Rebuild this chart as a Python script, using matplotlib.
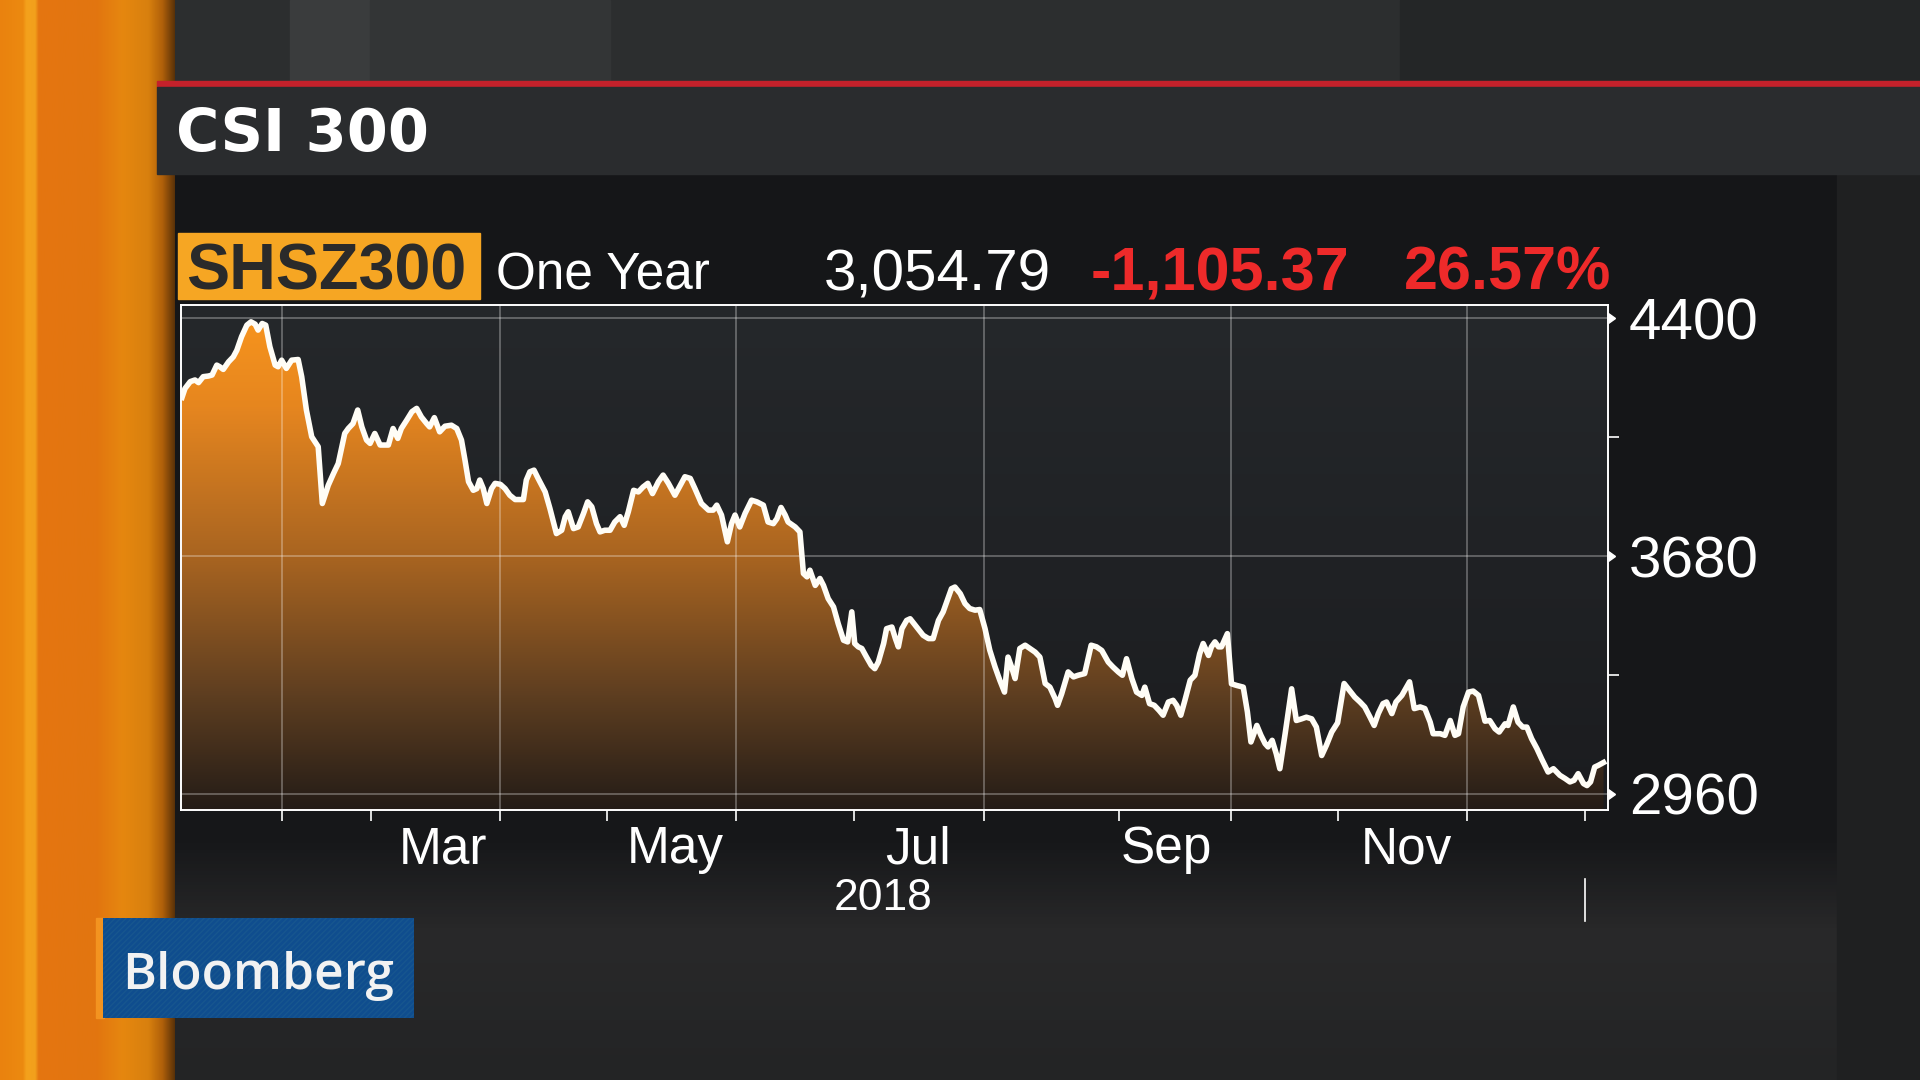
import numpy as np
import matplotlib
matplotlib.use("Agg")
import matplotlib.pyplot as plt
import matplotlib.transforms as mtransforms
from matplotlib.colors import LinearSegmentedColormap
from matplotlib.patches import Rectangle

plt.rcParams['font.family'] = ['Liberation Sans', 'DejaVu Sans']
plt.rcParams['hatch.linewidth'] = 1.0

# --- data: position in trading days since first close, CSI 300 level ---
t = [0.0, 0.5, 1.4, 2.2, 2.8, 3.6, 4.5, 5.1, 5.9, 6.4,
     7.0, 7.9, 8.7, 9.3, 10.1, 11.0, 11.7, 12.4, 12.9, 13.6,
     14.2, 14.9, 15.8, 16.3, 16.9, 17.7, 18.6, 19.7, 20.3, 21.1,
     22.0, 23.1, 23.8, 24.8, 25.7, 26.5, 27.6, 28.2, 29.0, 29.8,
     30.5, 31.3, 31.9, 32.7, 33.6, 35.0, 35.8, 36.6, 37.2, 38.1,
     39.0, 39.8, 40.6, 41.5, 42.0, 42.8, 43.7, 44.6, 45.7, 46.6,
     47.4, 48.0, 48.6, 49.4, 50.0, 50.5, 51.1, 51.7, 52.5, 53.1,
     54.0, 54.8, 55.6, 56.5, 57.9, 58.4, 59.0, 59.7, 60.4, 61.6,
     62.4, 63.5, 64.4,
     65.0, 65.5, 66.4, 67.2, 68.1, 68.8, 69.5, 70.3, 70.9, 71.7,
     72.6, 73.4, 74.3, 75.0, 75.7, 76.6, 77.4, 78.2, 79.0, 79.8,
     80.8, 81.6, 82.5, 83.6, 84.5, 85.3, 86.2, 87.0, 88.1, 89.3,
     90.1, 90.7, 91.5, 92.5, 93.2, 93.8, 94.6, 95.5, 96.6, 97.5,
     98.6, 99.4, 100.3, 100.9, 101.6, 102.3, 102.8, 104.0, 104.8, 105.4,
     106.0, 106.5, 107.4, 108.2, 108.8, 109.6, 110.5, 111.3, 112.2, 112.9,
     113.6, 114.1, 114.7, 115.3, 116.1, 116.9, 117.5, 118.1, 119.0, 119.5,
     120.4, 121.0, 121.5, 122.1, 122.9, 123.5, 124.6, 125.7, 126.6, 127.4,
     128.3, 129.1, 130.0, 130.5,
     131.1, 132.0, 132.8, 133.6, 134.5, 135.3, 136.2, 137.0, 137.9, 138.7,
     139.5, 140.1, 140.7, 141.3, 142.1, 143.0, 143.8, 144.7, 145.5, 146.4,
     147.2, 148.1, 148.5, 149.2, 150.3, 151.2, 152.0, 153.1, 154.2, 155.1,
     156.0, 157.1, 157.9, 158.8, 159.5, 160.2, 161.1, 161.9, 162.8, 163.3,
     164.1, 164.9, 165.7, 166.4, 167.3, 168.1, 168.7, 169.4, 170.1, 171.0,
     171.8, 172.6, 173.2, 174.1, 174.6, 175.2, 175.8, 176.3, 177.3, 178.0,
     178.9, 180.0, 180.7, 181.3, 182.3, 183.0, 183.7, 184.2, 184.9, 185.6,
     186.2, 187.1, 188.2, 189.0, 189.9, 190.7, 191.6, 192.4, 193.3, 194.1,
     195.0, 196.0,
     197.1, 197.8, 198.9, 199.8, 200.6, 201.5, 202.2, 202.9, 203.7, 204.3,
     205.2, 205.9, 206.9, 208.2, 209.0, 210.0, 210.8, 211.7, 212.2, 213.4,
     214.2, 215.1, 215.9, 216.5, 217.3, 218.2, 219.0, 219.9, 220.4, 221.0,
     221.8, 222.7, 223.4, 224.4, 224.9, 225.8, 226.6, 227.4, 228.1, 228.9,
     229.8, 230.6, 231.7, 232.6, 233.7, 234.6, 235.4, 236.1, 236.8, 237.7,
     238.3, 238.9, 239.6, 240.2, 241.1]

close = [4160.16, 4187, 4208, 4213, 4205, 4223, 4225, 4228, 4258, 4253,
         4245, 4268, 4283, 4303, 4344, 4379, 4389, 4382, 4364, 4384,
         4379, 4314, 4258, 4253, 4273, 4248, 4273, 4275, 4223, 4122,
         4041, 4011, 3839, 3894, 3930, 3960, 4051, 4066, 4081, 4122,
         4071, 4031, 4021, 4051, 4016, 4016, 4066, 4036, 4066, 4091,
         4117, 4127, 4101, 4081, 4071, 4099, 4056, 4073, 4076, 4066,
         4031, 3970, 3905, 3879, 3884, 3910, 3884, 3839, 3884, 3900,
         3897, 3884, 3864, 3851, 3851, 3910, 3935, 3940, 3915, 3874,
         3824, 3748, 3758,
         3799, 3814, 3763, 3768, 3809, 3844, 3829, 3778, 3753, 3758,
         3758, 3783, 3799, 3773, 3814, 3879, 3874, 3889, 3900, 3869,
         3905, 3925, 3900, 3864, 3894, 3920, 3915, 3884, 3839, 3819,
         3819, 3834, 3804, 3723, 3778, 3804, 3768, 3809, 3849, 3844,
         3834, 3783, 3778, 3793, 3827, 3804, 3783, 3768, 3753, 3627,
         3617, 3637, 3591, 3612, 3591, 3551, 3526, 3475, 3425, 3420,
         3511, 3415, 3405, 3400, 3374, 3349, 3339, 3359, 3415, 3460,
         3465, 3430, 3405, 3460, 3485, 3490, 3465, 3440, 3430, 3430,
         3485, 3511, 3556, 3581,
         3586, 3566, 3536, 3521, 3516, 3518, 3460, 3395, 3344, 3304,
         3268, 3374, 3344, 3309, 3400, 3410, 3400, 3389, 3374, 3294,
         3283, 3248, 3228, 3263, 3329, 3314, 3319, 3324, 3410, 3405,
         3394, 3359, 3344, 3329, 3319, 3369, 3309, 3268, 3258, 3283,
         3233, 3228, 3213, 3198, 3238, 3243, 3228, 3198, 3243, 3304,
         3319, 3384, 3415, 3379, 3405, 3420, 3405, 3405, 3445, 3293,
         3288, 3283, 3208, 3117, 3167, 3137, 3112, 3102, 3122, 3081,
         3036, 3142, 3278, 3182, 3187, 3192, 3187, 3162, 3076, 3107,
         3147, 3175,
         3294, 3278, 3253, 3238, 3223, 3192, 3167, 3203, 3233, 3238,
         3203, 3238, 3258, 3299, 3218, 3223, 3218, 3177, 3142, 3142,
         3137, 3182, 3137, 3142, 3223, 3268, 3271, 3258, 3223, 3180,
         3182, 3157, 3147, 3172, 3167, 3223, 3177, 3162, 3162, 3127,
         3097, 3066, 3026, 3036, 3016, 3006, 2996, 3001, 3021, 2991,
         2985, 2996, 3041, 3046, 3054.79]

assert len(t) == len(close)

# first trading day of each month, Feb 2018 .. Jan 2019
month_start = [17, 32, 54, 72, 94, 114, 136, 159, 178, 196, 218, 238]
grid_months = [17, 54, 94, 136, 178, 218]
month_labels = ['Mar', 'May', 'Jul', 'Sep', 'Nov']
label_pos = [44.3, 83.6, 124.8, 166.9, 207.6]
year_label = '2018'
year_end = 238
y_major = [2960, 3680, 4400]
y_minor = [3320, 4040]

title = 'CSI 300'
ticker = 'SHSZ300'
period = 'One Year'
last_px = '3,054.79'
net_chg = '-1,105.37'
pct_chg = '26.57%'

W, H = 1920, 1080
fig = plt.figure(figsize=(19.2, 10.8), dpi=100, facecolor='#222324')

# background "TV graphic" layer in pixel coordinates
bg = fig.add_axes([0, 0, 1, 1])
bg.axis('off')


def vgrad(ax, x0, x1, y0, y1, stops, z=0):
    cm = LinearSegmentedColormap.from_list('v', stops)
    ax.imshow(np.linspace(0, 1, 256).reshape(-1, 1), cmap=cm, aspect='auto',
              extent=(x0, x1, y1, y0), origin='upper', zorder=z)


def hgrad(ax, x0, x1, y0, y1, stops, z=0):
    cm = LinearSegmentedColormap.from_list('h', stops)
    ax.imshow(np.linspace(0, 1, 512).reshape(1, -1), cmap=cm, aspect='auto',
              extent=(x0, x1, y1, y0), origin='upper', zorder=z)


# top band
bg.add_patch(Rectangle((0, 0), W, 82, color='#2c2e2f', zorder=0))
bg.add_patch(Rectangle((290, 0), 80, 82, color='#3a3c3d', zorder=0))
bg.add_patch(Rectangle((370, 0), 240, 82, color='#333536', zorder=0))
bg.add_patch(Rectangle((1400, 0), 520, 82, color='#242627', zorder=0))
# main panel and lower area
vgrad(bg, 175, 1837, 174, H, [(0, '#151618'), (0.74, '#17181a'), (0.84, '#29292a'), (1, '#232425')])
bg.add_patch(Rectangle((1837, 174), W - 1837, H - 174, color='#1f2021', zorder=0))
# orange strip on the left
hgrad(bg, 0, 175, 0, H, [(0, '#ea820e'), (0.13, '#ec8a10'), (0.15, '#f4a21c'), (0.2, '#f2a01c'),
                         (0.22, '#e57610'), (0.55, '#e27510'), (0.7, '#e6870f'), (0.85, '#d8800e'),
                         (0.93, '#b0600a'), (1, '#5a3208')], z=1)
# red rule and title bar
bg.add_patch(Rectangle((157, 81), W - 157, 6, color='#c4212b', zorder=2))
bg.add_patch(Rectangle((157, 87), W - 157, 87, color='#2a2c2e', zorder=2))
bg.text(176, 151, title, fontsize=42.5, weight='bold', color='white', va='baseline',
        family=['DejaVu Sans'], zorder=3)

# header line
bg.add_patch(Rectangle((178, 233), 302, 66, color='#f6a623', zorder=2))
bg.text(186, 290, ticker, fontsize=46.5, weight='bold', color='#2a2a2a', va='baseline', zorder=3)
bg.text(496, 290, period, fontsize=37, color='white', va='baseline', zorder=3)
bg.text(1051, 290, last_px, fontsize=42, color='white', va='baseline', ha='right', zorder=3)
bg.text(1349, 290, net_chg, fontsize=44, weight='bold', color='#ee2a2a', va='baseline', ha='right', zorder=3)
bg.text(1611, 290, pct_chg, fontsize=44, weight='bold', color='#ee2a2a', va='baseline', ha='right', zorder=3)

# Bloomberg bug
bg.add_patch(Rectangle((96, 918), 8, 100, color='#f39320', zorder=3))
bg.add_patch(Rectangle((103, 918), 311, 100, facecolor='#0f4d8e', edgecolor='none', zorder=3))
bg.add_patch(Rectangle((103, 918), 311, 100, facecolor='none', edgecolor='#17568f', hatch='//////',
                       lw=0, zorder=3))
bg.text(258, 989, 'Bloomberg', fontsize=37, weight='semibold', color='#f2f2f2', ha='center',
        va='baseline', family=['Open Sans', 'DejaVu Sans'], zorder=4)

bg.set_xlim(0, W)
bg.set_ylim(H, 0)

# chart
ax = fig.add_axes([181 / W, 1 - 810 / H, (1608 - 181) / W, (810 - 305) / H])
xmin, xmax = -0.17, 241.86
ymin, ymax = 2911, 4440

ax.imshow(np.linspace(0, 1, 256).reshape(-1, 1),
          cmap=LinearSegmentedColormap.from_list('p', ['#1b1c1f', '#25282b']),
          aspect='auto', extent=(xmin, xmax, ymin, ymax), origin='lower', zorder=0)

fill_cmap = LinearSegmentedColormap.from_list(
    'fill', [(0, '#241c17'), (0.22, '#5c3d20'), (0.5, '#a86421'), (0.8, '#e6861f'), (1, '#f9961d')])
poly = ax.fill_between(t, close, ymin, color='none', lw=0)
grad = ax.imshow(np.linspace(0, 1, 256).reshape(-1, 1), cmap=fill_cmap, aspect='auto',
                 extent=(xmin, xmax, ymin, ymax), origin='lower', zorder=1)
grad.set_clip_path(poly.get_paths()[0], transform=ax.transData)

for g in grid_months:
    ax.axvline(g, color='white', alpha=0.3, lw=1.3, zorder=2)
for y in y_major:
    ax.axhline(y, color='white', alpha=0.3, lw=1.3, zorder=2)

ax.plot(t, close, color='#fffdf6', lw=4.0, zorder=5, solid_joinstyle='round')

ax.set_xlim(xmin, xmax)
ax.set_ylim(ymin, ymax)
for s in ax.spines.values():
    s.set_color('white')
    s.set_linewidth(1.4)
    s.set_zorder(6)

# y axis on the right
ax.yaxis.tick_right()
ax.set_yticks(y_major, [str(v) for v in y_major])
ax.set_yticks(y_minor, minor=True)
ax.tick_params(axis='y', which='major', length=0, pad=15, labelsize=42, labelcolor='white')
ax.tick_params(axis='y', which='minor', length=8, width=1.2, color='white', direction='out')
ytrans = mtransforms.blended_transform_factory(ax.transAxes, ax.transData)
ax.plot([1.0] * len(y_major), y_major, ls='none', marker=9, ms=7, color='white',
        transform=ytrans, clip_on=False, zorder=7)

# x axis: month boundaries and mid-month labels
ax.set_xticks(month_start, minor=True)
ax.set_xticks(label_pos, month_labels)
ax.tick_params(axis='x', which='minor', length=8, width=1.2, color='white', direction='out')
ax.tick_params(axis='x', which='major', length=0, pad=11, labelsize=37, labelcolor='white')

xtrans = mtransforms.blended_transform_factory(ax.transData, ax.transAxes)
ax.text(year_end / 2, -0.176, year_label, transform=xtrans, ha='center', va='center',
        fontsize=32, color='white')
ax.plot([year_end, year_end], [-0.137, -0.22], transform=xtrans, color='white', lw=1.2,
        clip_on=False)

fig.savefig('out.png', dpi=100, facecolor=fig.get_facecolor())
